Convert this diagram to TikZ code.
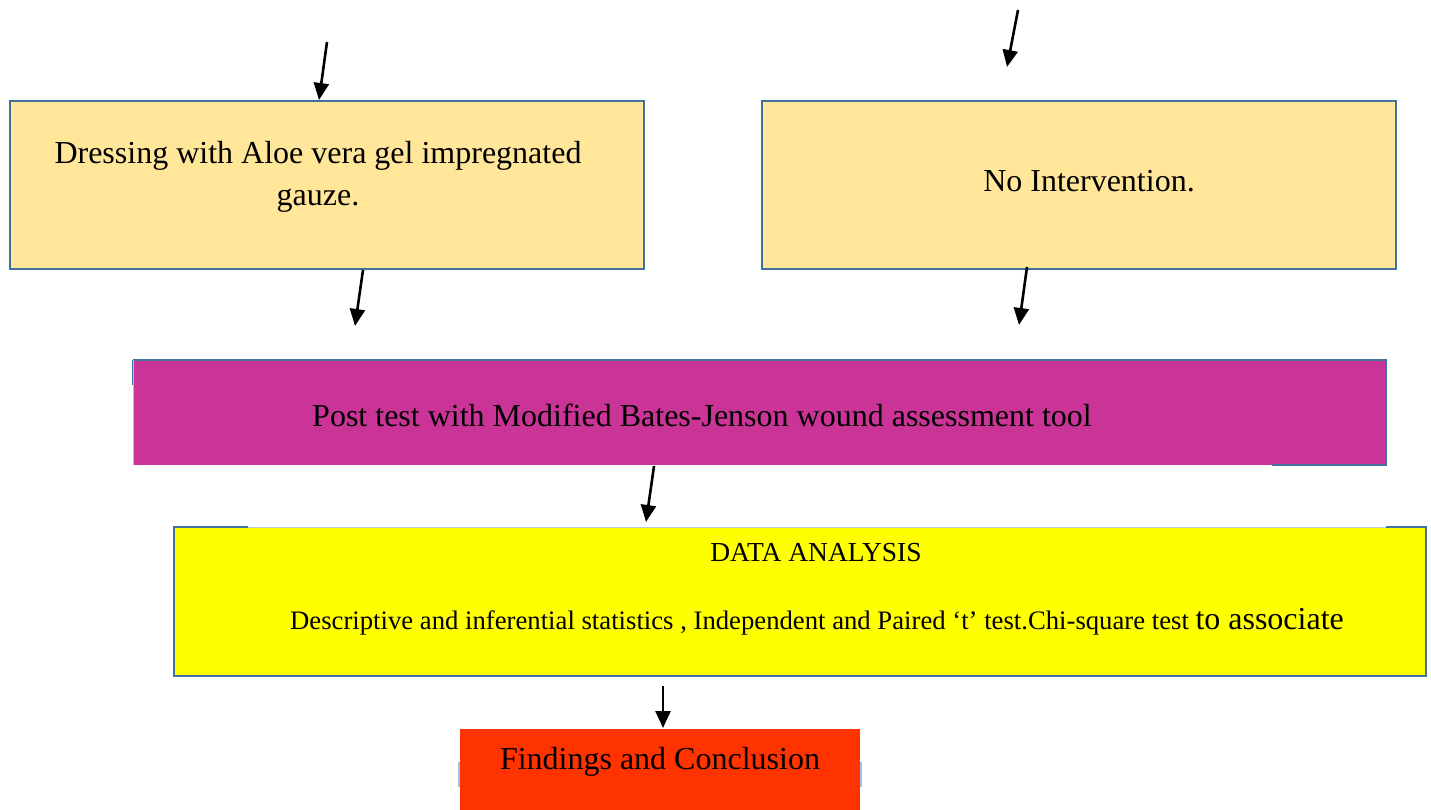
\documentclass[tikz,border=0pt]{standalone}
\usepackage{fontspec}
\setmainfont{Liberation Serif}
\usetikzlibrary{arrows.meta}
\definecolor{peach}{HTML}{FFE699}
\definecolor{edgeblue}{HTML}{41719C}
\definecolor{magentabox}{HTML}{CA3497}
\definecolor{yellowbox}{HTML}{FFFF00}
\definecolor{redbox}{HTML}{FF3300}
\definecolor{lightedge}{HTML}{9DC3E6}
\tikzset{
  flowarrow/.style={line width=2.6pt,-{Triangle[length=17pt,width=15pt]}},
  boxtext/.style={font=\fontsize{32}{42}\selectfont,align=center},
  smalltext/.style={font=\fontsize{27.5}{30}\selectfont},
  plainbox/.style={inner sep=0pt,outer sep=0pt},
}
\begin{document}
\begin{tikzpicture}[x=1pt,y=-1pt]
\useasboundingbox (0,0) rectangle (1431,810);
% box 1
\node[plainbox,draw=edgeblue,line width=2pt,fill=peach,minimum width=634pt,minimum height=168pt] (b1) at (327,185) {};
\node[boxtext] (t1) at (318,177) {Dressing with Aloe vera gel impregnated\\gauze.};
% box 2
\node[plainbox,draw=edgeblue,line width=2pt,fill=peach,minimum width=634pt,minimum height=168pt] (b2) at (1079,185) {};
\node[boxtext] (t2) at (1089,181) {No Intervention.};
% magenta box
\node[plainbox,fill=magentabox,minimum width=1253pt,minimum height=105pt] (b3) at (759.5,412.5) {};
\draw[edgeblue,line width=2.5pt] (b3.north west) -- (b3.north east) -- (b3.south east) -- ([xshift=-114pt]b3.south east);
\draw[edgeblue,line width=1.5pt] (b3.north west) -- ([yshift=-25pt]b3.north west);
\draw[lightedge,line width=1pt] (b3.north west) -- (b3.south west);
\node[boxtext] (t3) at (702,415) {Post test with Modified Bates-Jenson wound assessment tool};
% yellow box
\node[plainbox,fill=yellowbox,minimum width=1252pt,minimum height=149pt] (b4) at (800,601.5) {};
\draw[lightedge!60!gray!60,line width=1pt] (b4.north west) -- (b4.north east);
\draw[edgeblue,line width=2.5pt] ([xshift=74pt]b4.north west) -- (b4.north west) -- (b4.south west) -- (b4.south east) -- (b4.north east) -- ([xshift=-40pt]b4.north east);
\node[smalltext] (t4) at (816,553) {DATA ANALYSIS};
\node[font=\fontsize{26.7}{30}\selectfont,anchor=base west,inner sep=0pt] (t5) at (290,629) {Descriptive and inferential statistics , Independent and Paired ‘t’ test.Chi-square test {\fontsize{32}{34}\selectfont to associate}};
% red box
\draw[lightedge,line width=1.5pt] (459,762) -- (459,787) (861,762) -- (861,787);
\node[plainbox,fill=redbox,minimum width=400pt,minimum height=82pt] (b5) at (660,770) {};
\node[boxtext] (t6) at (660,762) {Findings and Conclusion};
% arrows
\coordinate (s1) at (327,42);
\coordinate (e1) at (319,100);
\coordinate (s2) at (1018,10);
\coordinate (e2) at (1007,67);
\coordinate (s3) at (363,270);
\coordinate (e3) at (355,326);
\coordinate (s4) at (1027,267);
\coordinate (e4) at (1019,325);
\coordinate (s5) at (654,466);
\coordinate (e5) at (646,522);
\coordinate (s6) at (663,686);
\coordinate (e6) at (663,728);
\draw[flowarrow] (s1) -- (e1);
\draw[flowarrow] (s2) -- (e2);
\draw[flowarrow] (s3) -- (e3);
\draw[flowarrow] (s4) -- (e4);
\draw[flowarrow] (s5) -- (e5);
\draw[flowarrow] (s6) -- (e6);
\end{tikzpicture}
\end{document}
